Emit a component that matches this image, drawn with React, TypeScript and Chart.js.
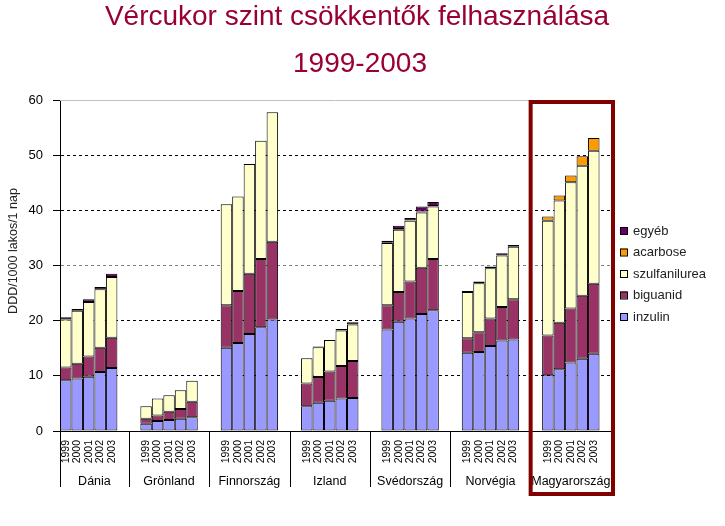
import React, { useEffect, useRef } from 'react';
import { Chart, registerables } from 'chart.js';

Chart.register(...registerables);

// ---------- data ----------
const titleLines = ['Vércukor szint csökkentők felhasználása', '1999-2003'];
const countries = ['Dánia', 'Grönland', 'Finnország', 'Izland', 'Svédország', 'Norvégia', 'Magyarország'];
const years = ['1999', '2000', '2001', '2002', '2003'];
const yTicks = [0, 10, 20, 30, 40, 50, 60];

// values per country (5 years each), DDD/1000 lakos/1 nap
const inzulin = [
  9.2, 9.5, 9.85, 10.7, 11.4,
  1.3, 1.8, 2.0, 2.2, 2.5,
  15.1, 15.95, 17.6, 18.8, 20.2,
  4.5, 5.1, 5.5, 5.9, 6.0,
  18.4, 19.8, 20.4, 21.2, 21.9,
  14.2, 14.3, 15.4, 16.4, 16.6,
  10.1, 11.2, 12.4, 13.1, 14.0,
];
const biguanid = [
  2.3, 2.7, 3.65, 4.4, 5.5,
  0.9, 1.0, 1.5, 1.8, 2.8,
  7.7, 9.45, 10.9, 12.4, 14.1,
  4.1, 4.7, 5.3, 5.9, 6.7,
  4.4, 5.4, 6.7, 8.4, 9.3,
  2.6, 3.6, 5.0, 6.1, 7.3,
  7.2, 8.4, 9.8, 11.4, 12.7,
];
const szulfanilurea = [
  8.7, 9.6, 9.9, 10.6, 11.0,
  2.3, 3.1, 3.0, 3.4, 3.8,
  18.3, 17.1, 19.9, 21.4, 23.5,
  4.6, 5.4, 5.7, 6.4, 6.6,
  11.3, 11.3, 11.0, 10.0, 9.5,
  8.4, 8.9, 9.1, 9.3, 9.5,
  20.8, 22.2, 22.9, 23.6, 24.1,
];
const acarbose = [
  0, 0, 0, 0, 0,
  0, 0, 0, 0, 0,
  0, 0, 0, 0, 0,
  0, 0, 0, 0, 0,
  0.1, 0.1, 0.1, 0.2, 0.1,
  0, 0, 0, 0, 0,
  0.8, 0.9, 1.2, 1.7, 2.3,
];
const egyeb = [
  0.4, 0.3, 0.5, 0.4, 0.6,
  0, 0, 0, 0, 0,
  0, 0, 0, 0, 0,
  0, 0.1, 0, 0.3, 0.4,
  0.3, 0.6, 0.4, 0.9, 0.7,
  0.2, 0.3, 0.3, 0.4, 0.3,
  0, 0, 0, 0, 0,
];

const seriesNames = ['inzulin', 'biguanid', 'szulfanilurea', 'acarbose', 'egyéb'];
const seriesValues = [inzulin, biguanid, szulfanilurea, acarbose, egyeb];

// ---------- styles ----------
const seriesColors = ['#9999FF', '#993366', '#FFFFCC', '#FF9900', '#660066'];
const FONT = '"Liberation Sans", Arial, sans-serif';
const TITLE_COLOR = '#990033';

// slots: Dánia = 5 years + blank, other countries = blank + 5 years + blank
type Slot = { c: number; y: number } | null;
const slots: Slot[] = [];
const groupStart: number[] = [];
countries.forEach((_, c) => {
  groupStart.push(slots.length);
  if (c > 0) slots.push(null);
  years.forEach((_, y) => slots.push({ c, y }));
  slots.push(null);
});
const slotLabels = slots.map((s) => (s ? years[s.y] : ''));

const overlayPlugin = {
  id: 'overlay',
  beforeDatasetsDraw(chart: any) {
    const { ctx, chartArea } = chart;
    const yS = chart.scales.y;
    const yTop = yS.getPixelForValue(60);
    ctx.save();
    ctx.strokeStyle = '#c0c0c0';
    ctx.lineWidth = 1;
    ctx.beginPath();
    ctx.moveTo(chartArea.left, Math.round(yTop) + 0.5);
    ctx.lineTo(chartArea.right, Math.round(yTop) + 0.5);
    ctx.stroke();
    ctx.restore();
  },
  afterDraw(chart: any) {
    const { ctx, chartArea } = chart;
    const xS = chart.scales.x;
    const n = slots.length;
    const slotW = (chartArea.right - chartArea.left) / n;
    const edge = (i: number) => xS.getPixelForValue(i) - slotW / 2;
    ctx.save();
    // title
    ctx.fillStyle = TITLE_COLOR;
    ctx.font = `28px ${FONT}`;
    ctx.textAlign = 'center';
    ctx.textBaseline = 'alphabetic';
    ctx.fillText(titleLines[0], 357, 25);
    ctx.fillText(titleLines[1], 360, 72);
    // group separators below the axis
    ctx.strokeStyle = '#000';
    ctx.lineWidth = 1;
    const bounds = groupStart.map((s) => edge(s));
    bounds.push(chartArea.right);
    bounds.forEach((bx) => {
      const x = Math.round(bx) + 0.5;
      ctx.beginPath();
      ctx.moveTo(x, chartArea.bottom);
      ctx.lineTo(x, chartArea.bottom + 56);
      ctx.stroke();
    });
    // group labels
    ctx.fillStyle = '#000';
    ctx.font = `12.5px ${FONT}`;
    ctx.textAlign = 'center';
    ctx.textBaseline = 'alphabetic';
    countries.forEach((name, c) => {
      const cx = (bounds[c] + bounds[c + 1]) / 2;
      ctx.fillText(name, cx, chartArea.bottom + 54);
    });
    // highlight box around the last group
    const last = countries.length - 1;
    ctx.strokeStyle = '#800000';
    ctx.lineWidth = 4;
    const bl = bounds[last];
    ctx.strokeRect(bl, chartArea.top + 2, chartArea.right + 2 - bl, chartArea.bottom + 63 - (chartArea.top + 2));
    // y-axis title
    ctx.save();
    ctx.translate(14, 251);
    ctx.rotate(-Math.PI / 2);
    ctx.fillStyle = '#222';
    ctx.font = `12.5px ${FONT}`;
    ctx.textAlign = 'center';
    ctx.textBaseline = 'middle';
    ctx.fillText('DDD/1000 lakos/1 nap', 0, 0);
    ctx.restore();
    // legend (top to bottom: reverse order)
    const lx = chartArea.right + 9;
    let ly = 230.5;
    for (let i = seriesNames.length - 1; i >= 0; i--) {
      ctx.fillStyle = seriesColors[i];
      ctx.fillRect(lx, ly - 3.5, 7, 7);
      ctx.strokeStyle = '#000';
      ctx.lineWidth = 1;
      ctx.strokeRect(lx + 0.5, ly - 3.5 + 0.5, 7, 7);
      ctx.fillStyle = '#222';
      ctx.font = `13px ${FONT}`;
      ctx.textAlign = 'left';
      ctx.textBaseline = 'middle';
      ctx.fillText(seriesNames[i], lx + 13, ly + 0.5);
      ly += 21.5;
    }
    ctx.restore();
  },
};

export default function App() {
  const ref = useRef<HTMLCanvasElement>(null);
  useEffect(() => {
    if (!ref.current) return;
    const datasets = seriesNames.map((name, k) => ({
      label: name,
      data: slots.map((s) => {
        if (!s) return null;
        const v = seriesValues[k][s.c * years.length + s.y];
        return v ? v : null;
      }),
      backgroundColor: seriesColors[k],
      borderColor: '#000',
      borderWidth: 1,
      borderSkipped: false,
      categoryPercentage: 1,
      barPercentage: 1,
      inflateAmount: 0,
    }));
    const chart = new Chart(ref.current, {
      type: 'bar',
      data: { labels: slotLabels, datasets },
      plugins: [overlayPlugin],
      options: {
        responsive: false,
        animation: false,
        layout: { padding: { left: 0, right: 114, top: 100, bottom: 0 } },
        plugins: {
          legend: { display: false },
          tooltip: { enabled: false },
          title: { display: false },
        },
        scales: {
          x: {
            type: 'category',
            stacked: true,
            grid: { display: false, drawTicks: false },
            border: { display: true, color: '#000', width: 1 },
            ticks: {
              autoSkip: false,
              minRotation: 90,
              maxRotation: 90,
              padding: 9,
              color: '#000',
              font: { family: FONT, size: 10.5 },
            },
            afterFit: (s: any) => {
              s.height = 95;
            },
          },
          y: {
            stacked: true,
            min: 0,
            max: 60,
            afterBuildTicks: (s: any) => {
              s.ticks = yTicks.map((v) => ({ value: v }));
            },
            grid: {
              color: (c: any) => {
                const v = c.tick ? c.tick.value : -1;
                if (v === 0 || v === 60) return 'rgba(0,0,0,0)';
                if (v === 30) return '#808080';
                return '#000';
              },
              tickColor: '#000',
              tickLength: 7,
              tickBorderDash: [],
            },
            border: { display: true, color: '#000', width: 1, dash: [3, 3] },
            ticks: {
              padding: 10,
              color: '#000',
              font: { family: FONT, size: 13 },
            },
            afterFit: (s: any) => {
              s.width = 60;
            },
          },
        },
      } as any,
    });
    return () => chart.destroy();
  }, []);
  return (
    <div style={{ position: 'absolute', left: 0, top: 0, width: 725, height: 526, background: '#fff' }}>
      <canvas ref={ref} width={725} height={526} style={{ display: 'block' }} />
    </div>
  );
}
